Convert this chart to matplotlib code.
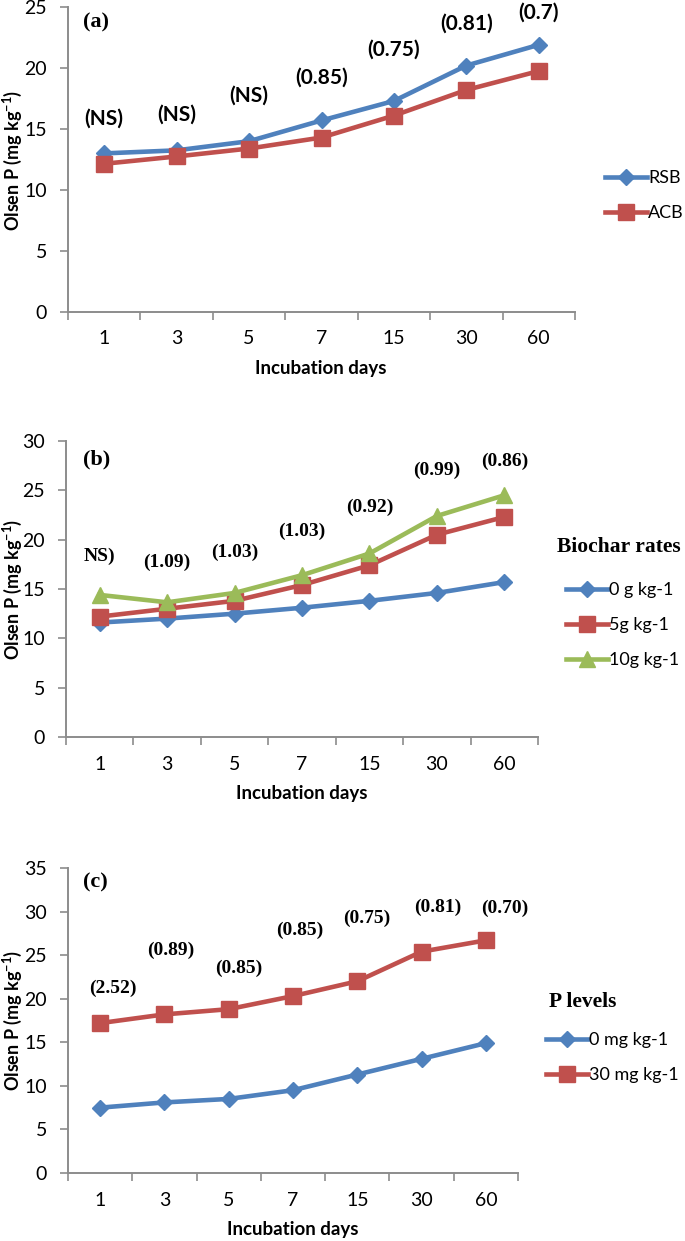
import numpy as np
import matplotlib
matplotlib.use('Agg')
import matplotlib.pyplot as plt
from matplotlib.ticker import FixedLocator, NullFormatter

plt.rcParams['font.family'] = ['Lato', 'DejaVu Sans']
plt.rcParams['mathtext.fontset'] = 'custom'
plt.rcParams['mathtext.rm'] = 'Lato'
plt.rcParams['mathtext.bf'] = 'Lato:bold'

days = ['1', '3', '5', '7', '15', '30', '60']

# panel (a) biochar type
rsb = [13.0, 13.25, 14.0, 15.7, 17.3, 20.2, 21.9]
acb = [12.15, 12.75, 13.4, 14.3, 16.1, 18.2, 19.75]
lab_a = ['(NS)', '(NS)', '(NS)', '(0.85)', '(0.75)', '(0.81)', '(0.7)']
laby_a = [15.85, 16.2, 17.7, 19.2, 21.5, 23.6, 24.5]

# panel (b) biochar rates
b0 = [11.6, 12.0, 12.5, 13.1, 13.8, 14.6, 15.7]
b5 = [12.2, 13.0, 13.8, 15.4, 17.4, 20.5, 22.3]
b10 = [14.4, 13.65, 14.6, 16.4, 18.6, 22.4, 24.5]
lab_b = ['NS)', '(1.09)', '(1.03)', '(1.03)', '(0.92)', '(0.99)', '(0.86)']
laby_b = [18.3, 17.7, 18.7, 20.8, 23.3, 27.0, 27.9]

# panel (c) P levels
p0 = [7.5, 8.1, 8.5, 9.5, 11.3, 13.1, 14.9]
p30 = [17.2, 18.2, 18.8, 20.3, 22.0, 25.4, 26.7]
lab_c = ['(2.52)', '(0.89)', '(0.85)', '(0.85)', '(0.75)', '(0.81)', '(0.70)']
laby_c = [21.2, 25.6, 23.5, 27.8, 29.2, 30.5, 30.4]
labx_c = [0.2, 0.1, 0.15, 0.1, 0.15, 0.25, 0.3]

blue = '#4F81BD'
red = '#C0504D'
green = '#9BBB59'
gray = '#8C8C8C'

W, H = 685, 1241
fig = plt.figure(figsize=(6.85, 12.41), dpi=100)

def px(x0, y0, x1, y1):
    return [x0 / W, 1 - y1 / H, (x1 - x0) / W, (y1 - y0) / H]

def setup(ax, ymax, step, xpad):
    x = np.arange(len(days))
    ax.set_xlim(-0.5, len(days) - 0.5)
    ax.set_ylim(0, ymax)
    ax.set_xticks(x)
    ax.set_xticklabels(days)
    ax.xaxis.set_minor_locator(FixedLocator(np.arange(-0.5, len(days), 1.0)))
    ax.xaxis.set_minor_formatter(NullFormatter())
    ax.tick_params(axis='x', which='major', length=0, pad=xpad, labelsize=14)
    ax.tick_params(axis='x', which='minor', length=6, width=1.2, color=gray)
    ax.set_yticks(np.arange(0, ymax + 0.1, step))
    ax.tick_params(axis='y', length=6, width=1.2, color=gray, pad=9, labelsize=14)
    for s in ['top', 'right']:
        ax.spines[s].set_visible(False)
    for s in ['left', 'bottom']:
        ax.spines[s].set_color(gray)
        ax.spines[s].set_linewidth(1.4)
    ax.patch.set_alpha(0)
    return x

lw = 3.3
leg_kw = dict(loc='center left', frameon=False, fontsize=13, handlelength=2.3,
              handletextpad=0.1, borderpad=0, borderaxespad=0)

# ---------------- (a)
ax = fig.add_axes(px(68, 7, 575, 312))
x = setup(ax, 25, 5, 13)
ax.plot(x, rsb, color=blue, lw=lw, marker='D', ms=8.5, label='RSB', clip_on=False)
ax.plot(x, acb, color=red, lw=lw, marker='s', ms=11.5, label='ACB', clip_on=False)
for i in range(len(days)):
    ax.text(x[i], laby_a[i], lab_a[i], ha='center', va='center', fontsize=15, fontweight='bold')
ax.text(0.03, 0.948, '(a)', transform=ax.transAxes, ha='left', va='center',
        fontsize=16, fontweight='bold', family='Liberation Serif')
fig.legend(*ax.get_legend_handles_labels(), bbox_to_anchor=(605 / W, 1 - 195.5 / H),
           labelspacing=1.05, **leg_kw)
fig.text(12 / W, 1 - 160 / H, r'Olsen P (mg kg$^{\mathbf{-1}}$)', rotation=90, ha='center', va='center',
         fontsize=13, fontweight='bold')
fig.text(321 / W, 1 - 368 / H, 'Incubation days', ha='center', va='center', fontsize=13.5, fontweight='bold')

# ---------------- (b)
ax = fig.add_axes(px(66, 441, 538, 737))
x = setup(ax, 30, 5, 14)
ax.plot(x, b0, color=blue, lw=lw, marker='D', ms=8.5, label='0 g kg-1', clip_on=False)
ax.plot(x, b5, color=red, lw=lw, marker='s', ms=11.5, label='5g kg-1', clip_on=False)
ax.plot(x, b10, color=green, lw=lw, marker='^', ms=11.5, label='10g kg-1', clip_on=False)
for i in range(len(days)):
    ax.text(x[i], laby_b[i], lab_b[i], ha='center', va='center', fontsize=14, fontweight='bold',
            family='Liberation Serif')
ax.text(0.036, 0.936, '(b)', transform=ax.transAxes, ha='left', va='center',
        fontsize=16, fontweight='bold', family='Liberation Serif')
fig.legend(*ax.get_legend_handles_labels(), bbox_to_anchor=(566 / W, 1 - 625 / H),
           labelspacing=1.05, **leg_kw)
fig.text(557 / W, 1 - 547 / H, 'Biochar rates', ha='left', va='center', fontsize=15.5,
         fontweight='bold', family='Liberation Serif')
fig.text(12 / W, 1 - 589 / H, r'Olsen P (mg kg$^{\mathbf{-1}}$)', rotation=90, ha='center', va='center',
         fontsize=13, fontweight='bold')
fig.text(302 / W, 1 - 793 / H, 'Incubation days', ha='center', va='center', fontsize=13.5, fontweight='bold')

# ---------------- (c)
ax = fig.add_axes(px(68, 868, 518, 1173))
x = setup(ax, 35, 5, 14)
ax.plot(x, p0, color=blue, lw=lw, marker='D', ms=8.5, label='0 mg kg-1', clip_on=False)
ax.plot(x, p30, color=red, lw=lw, marker='s', ms=11.5, label='30 mg kg-1', clip_on=False)
for i in range(len(days)):
    ax.text(x[i] + labx_c[i], laby_c[i], lab_c[i], ha='center', va='center', fontsize=14,
            fontweight='bold', family='Liberation Serif')
ax.text(0.033, 0.954, '(c)', transform=ax.transAxes, ha='left', va='center',
        fontsize=16, fontweight='bold', family='Liberation Serif')
fig.legend(*ax.get_legend_handles_labels(), bbox_to_anchor=(546 / W, 1 - 1057.5 / H),
           labelspacing=1.05, **leg_kw)
fig.text(549 / W, 1 - 1002 / H, 'P levels', ha='left', va='center', fontsize=15.5,
         fontweight='bold', family='Liberation Serif')
fig.text(12 / W, 1 - 1020 / H, r'Olsen P (mg kg$^{\mathbf{-1}}$)', rotation=90, ha='center', va='center',
         fontsize=13, fontweight='bold')
fig.text(293 / W, 1 - 1230 / H, 'Incubation days', ha='center', va='center', fontsize=13.5, fontweight='bold')

fig.savefig('out.png', dpi=100)
